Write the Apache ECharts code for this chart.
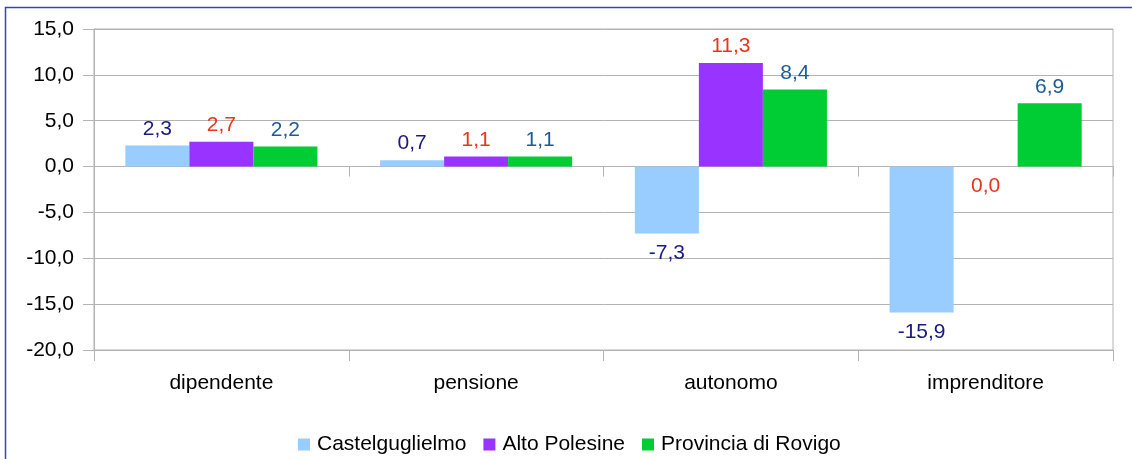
<!DOCTYPE html>
<html>
<head>
<meta charset="utf-8">
<script src="https://cdn.jsdelivr.net/npm/echarts@6/dist/echarts.min.js"></script>
<style>
html,body{margin:0;padding:0;background:#fff;}
#chart{width:1132px;height:459px;}
</style>
</head>
<body>
<div id="chart"></div>
<script>
const categories = ['dipendente', 'pensione', 'autonomo', 'imprenditore'];
const seriesNames = ['Castelguglielmo', 'Alto Polesine', 'Provincia di Rovigo'];
const castelguglielmo = [2.3, 0.7, -7.3, -15.9];
const altoPolesine = [2.7, 1.1, 11.3, 0.0];
const provinciaRovigo = [2.2, 1.1, 8.4, 6.9];
const seriesValues = [castelguglielmo, altoPolesine, provinciaRovigo];
const barColors = ['#99ccff', '#9933ff', '#00cc33'];
const labelColors = ['#1a1a80', '#e8361a', '#1c5a99'];

const fmt = v => Number(v).toFixed(1).replace('.', ',');
const FONT = 'Liberation Sans, Arial, sans-serif';
const FS = 21;

const chart = echarts.init(document.getElementById('chart'), null, {renderer: 'canvas'});

const series = seriesValues.map((vals, i) => ({
  name: seriesNames[i],
  type: 'bar',
  xAxisIndex: 0,
  barGap: '0%',
  barCategoryGap: '24.6%',
  itemStyle: {color: barColors[i]},
  data: vals.map(v => ({
    value: v,
    label: v <= 0 ? {position: 'bottom', distance: 9} : {position: 'top', distance: 6}
  })),
  label: {
    show: true,
    color: labelColors[i],
    fontFamily: FONT,
    fontSize: FS,
    formatter: p => fmt(p.value)
  }
}));

chart.setOption({
  animation: false,
  backgroundColor: '#ffffff',
  graphic: [{
    type: 'rect',
    shape: {x: 5.5, y: 7.5, width: 1200, height: 600},
    style: {fill: 'none', stroke: '#3c3cd0', lineWidth: 1.5},
    silent: true
  }],
  grid: {
    left: 94, right: 19, top: 29, bottom: 109,
    show: true, borderColor: '#b3b3b3', borderWidth: 1,
    containLabel: false
  },
  legend: {
    bottom: -1,
    left: 293,
    icon: 'rect',
    itemWidth: 12,
    itemHeight: 12,
    itemGap: 17,
    textStyle: {fontFamily: FONT, fontSize: FS, color: '#000', padding: [0, 0, 0, 2]},
    data: seriesNames
  },
  xAxis: [{
    type: 'category',
    data: categories,
    axisLine: {show: true, onZero: true, lineStyle: {color: '#b3b3b3'}},
    axisTick: {show: true, length: 10, lineStyle: {color: '#b3b3b3'}},
    axisLabel: {show: false},
    splitLine: {show: false}
  }, {
    type: 'category',
    data: categories,
    position: 'bottom',
    axisLine: {show: false, onZero: false},
    axisTick: {show: true, length: 11, lineStyle: {color: '#b3b3b3'}},
    axisLabel: {show: true, margin: 23, fontFamily: FONT, fontSize: FS, color: '#000'},
    splitLine: {show: false}
  }],
  yAxis: {
    type: 'value',
    min: -20, max: 15, interval: 5,
    axisLine: {show: true, lineStyle: {color: '#b3b3b3'}},
    axisTick: {show: true, length: 11, lineStyle: {color: '#b3b3b3'}},
    axisLabel: {margin: 20, fontFamily: FONT, fontSize: FS, color: '#000', formatter: v => fmt(v)},
    splitLine: {show: true, lineStyle: {color: '#b3b3b3', width: 1}}
  },
  series: series
});
</script>
</body>
</html>
